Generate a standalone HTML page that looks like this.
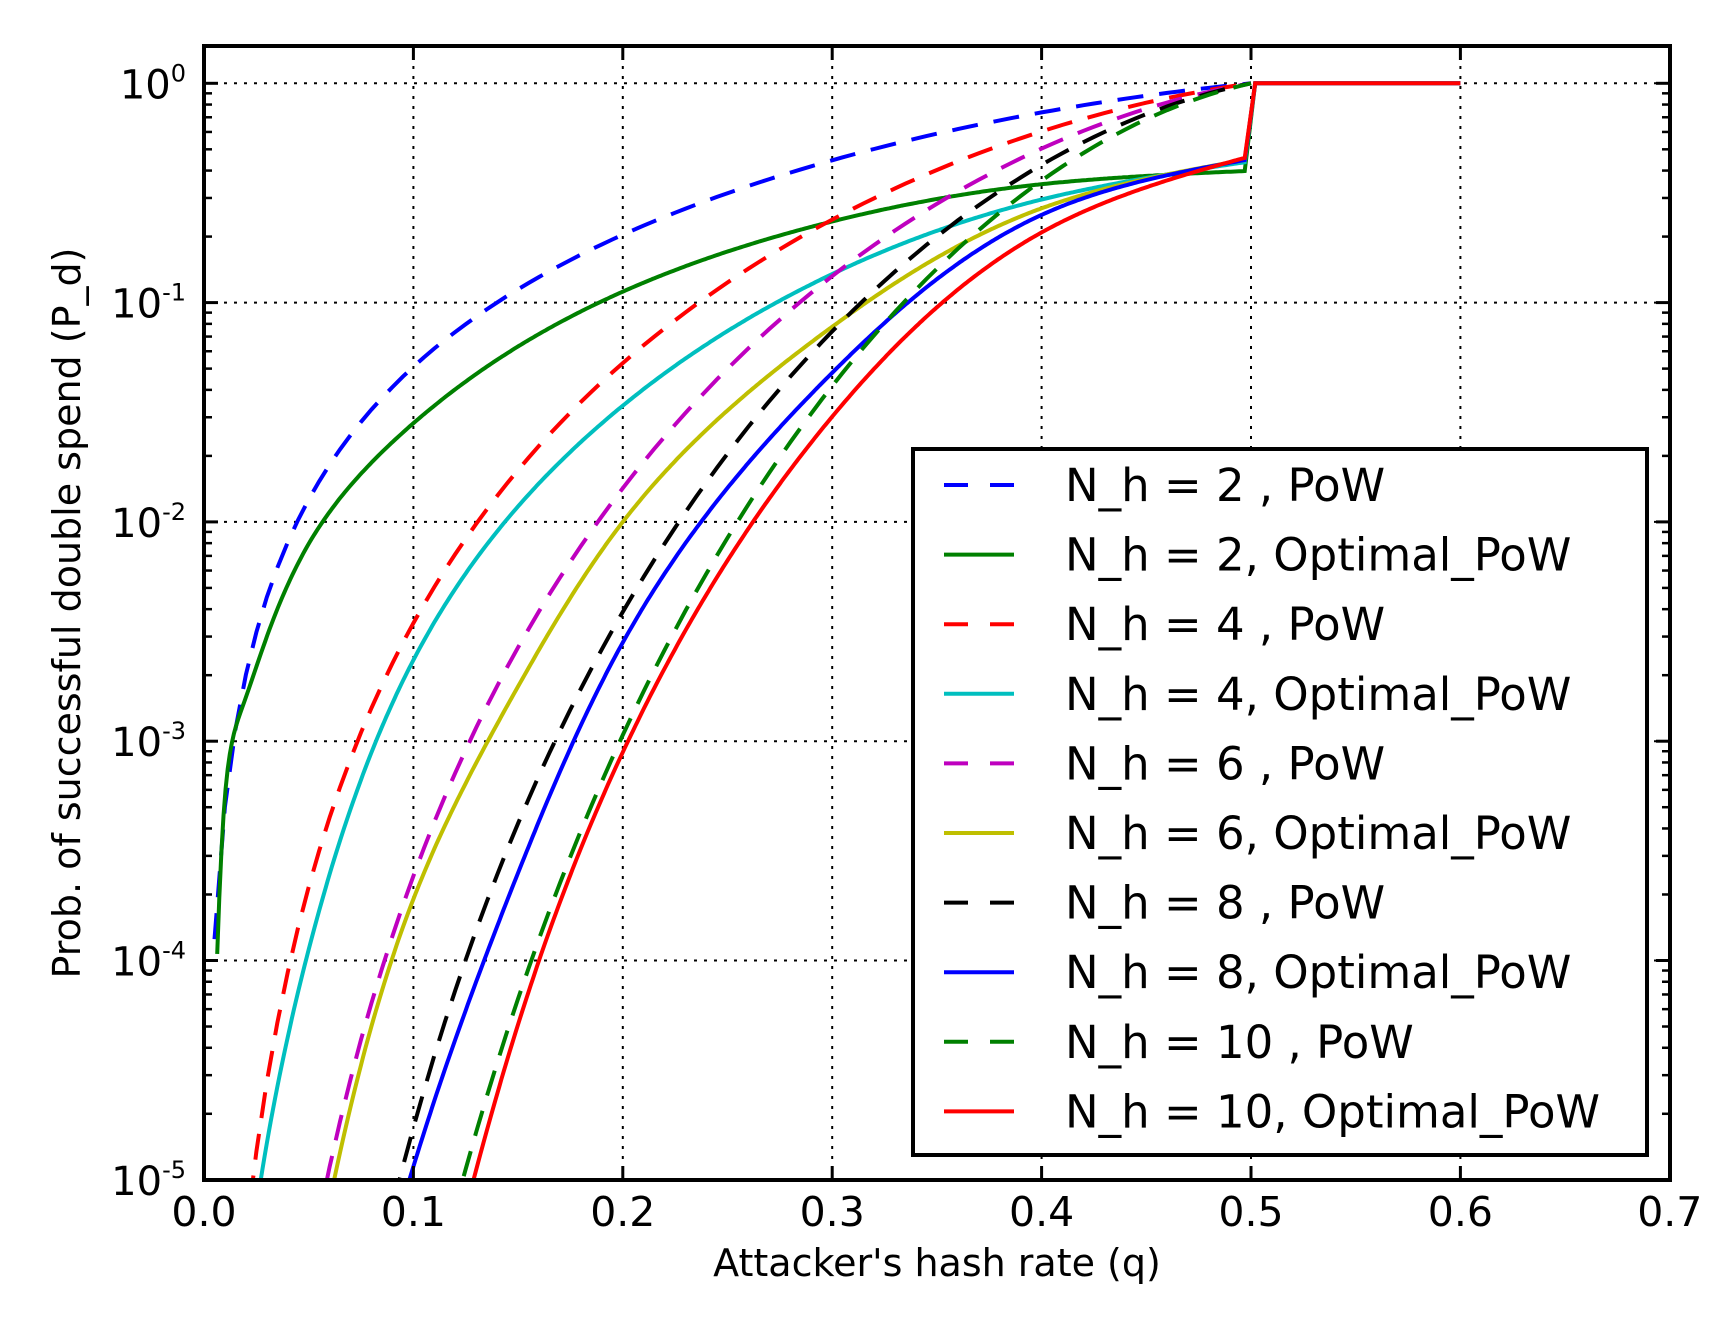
<!DOCTYPE html>
<html><head><meta charset="utf-8"><style>
html,body{margin:0;background:#fff;width:1723px;height:1321px;overflow:hidden}
svg{display:block}
svg text{font-family:"DejaVu Sans","Liberation Sans",sans-serif;fill:#000}
</style></head><body>
<svg id="s" width="1723" height="1321" xmlns="http://www.w3.org/2000/svg">
<defs><clipPath id="c"><rect x="204" y="46" width="1466" height="1134"/></clipPath></defs>
<rect width="1723" height="1321" fill="#fff"/>
<g id="grid"></g>
<g id="curves" clip-path="url(#c)"></g>
<rect x="204" y="46" width="1466" height="1134" fill="none" stroke="#000" stroke-width="4"/>
<g id="ticks"></g>
<g id="labels" font-size="41"></g>
<text x="937" y="1276" font-size="38" text-anchor="middle">Attacker's hash rate (q)</text>
<text transform="translate(80,613) rotate(-90)" font-size="38" text-anchor="middle">Prob. of successful double spend (P_d)</text>
<g id="legend"></g>
</svg>
<script>
const NS="http://www.w3.org/2000/svg";
function el(p,t,a,txt){const e=document.createElementNS(NS,t);for(const k in a)e.setAttribute(k,a[k]);if(txt!==undefined)e.textContent=txt;document.getElementById(p).appendChild(e);return e;}
const X=q=>204+q*2094, Y=l=>83.3-219.3*l;
for(let i=1;i<7;i++)el('grid','line',{x1:X(i/10),x2:X(i/10),y1:46,y2:1180,stroke:'#000','stroke-width':2,'stroke-dasharray':'3 7'});
for(let d=0;d>=-4;d--)el('grid','line',{x1:204,x2:1670,y1:Y(d),y2:Y(d),stroke:'#000','stroke-width':2,'stroke-dasharray':'3 7'});
for(let i=1;i<7;i++){el('ticks','line',{x1:X(i/10),x2:X(i/10),y1:1180,y2:1166,stroke:'#000','stroke-width':3});el('ticks','line',{x1:X(i/10),x2:X(i/10),y1:46,y2:60,stroke:'#000','stroke-width':3});}
for(let d=0;d>=-5;d--){
 el('ticks','line',{x1:204,x2:218,y1:Y(d),y2:Y(d),stroke:'#000','stroke-width':3});
 el('ticks','line',{x1:1670,x2:1656,y1:Y(d),y2:Y(d),stroke:'#000','stroke-width':3});
 if(d>-5)for(let k=2;k<10;k++){const y=Y(d-1+Math.log10(k));
  el('ticks','line',{x1:204,x2:212,y1:y,y2:y,stroke:'#000','stroke-width':2.5});
  el('ticks','line',{x1:1670,x2:1662,y1:y,y2:y,stroke:'#000','stroke-width':2.5});}
}
for(let i=0;i<=7;i++)el('labels','text',{x:X(i/10),y:1226,'text-anchor':'middle'},(i/10).toFixed(1));
for(let d=0;d>=-5;d--){
 const t=el('labels','text',{x:186,y:Y(d)+15,'text-anchor':'end','font-size':40});
 const a=document.createElementNS(NS,'tspan');a.textContent='10';t.appendChild(a);
 const b=document.createElementNS(NS,'tspan');b.setAttribute('font-size','24');b.setAttribute('dy','-17');b.textContent=(d===0?'0':d);t.appendChild(b);
}
function nak(q,z){if(q>=0.5)return 1;const p=1-q,l=z*q/p,r=q/p;let s=1,f=1;for(let k=0;k<=z;k++){if(k>0)f*=k;const po=Math.exp(-l)*Math.pow(l,k)/f;s-=po*(1-Math.pow(r,z-k));}return Math.max(s,1e-12);}
function spline(xs,ys){const n=xs.length,h=[],al=[],l=[1],mu=[0],z=[0],c=new Array(n).fill(0),b=[],d=[];
 for(let i=0;i<n-1;i++)h.push(xs[i+1]-xs[i]);
 for(let i=1;i<n-1;i++)al[i]=3/h[i]*(ys[i+1]-ys[i])-3/h[i-1]*(ys[i]-ys[i-1]);
 for(let i=1;i<n-1;i++){l[i]=2*(xs[i+1]-xs[i-1])-h[i-1]*mu[i-1];mu[i]=h[i]/l[i];z[i]=(al[i]-h[i-1]*z[i-1])/l[i];}
 for(let j=n-2;j>=0;j--){c[j]=(j>0?z[j]:0)-mu[j]*c[j+1];b[j]=(ys[j+1]-ys[j])/h[j]-h[j]*(c[j+1]+2*c[j])/3;d[j]=(c[j+1]-c[j])/(3*h[j]);}
 c[0]=0;b[0]=(ys[1]-ys[0])/h[0]-h[0]*(c[1])/3;d[0]=(c[1])/(3*h[0]);
 return x=>{let i=0;while(i<n-2&&x>xs[i+1])i++;const t=x-xs[i];return ys[i]+b[i]*t+c[i]*t*t+d[i]*t*t*t;};}
const opt={
2:[[0.0063,-3.97],[0.01,-3.25],[0.02,-2.8],[0.05,-2.1],[0.1,-1.55],[0.2,-0.95],[0.3,-0.63],[0.4,-0.46],[0.497,-0.40]],
4:[[0.024,-5.2],[0.05,-3.95],[0.1,-2.63],[0.2,-1.47],[0.3,-0.87],[0.4,-0.53],[0.497,-0.36]],
6:[[0.060,-5.1],[0.1,-3.72],[0.15,-2.75],[0.2,-2.0],[0.3,-1.11],[0.4,-0.57],[0.497,-0.35]],
8:[[0.095,-5.1],[0.15,-3.6],[0.2,-2.55],[0.3,-1.32],[0.4,-0.6],[0.497,-0.35]],
10:[[0.126,-5.1],[0.16,-4.0],[0.2,-3.05],[0.3,-1.52],[0.4,-0.68],[0.497,-0.34]]};
const series=[[2,'#0000ff','#008000'],[4,'#ff0000','#00bfbf'],[6,'#bf00bf','#bfbf00'],[8,'#000000','#0000ff'],[10,'#008000','#ff0000']];
series.forEach(([n,cd,cs])=>{
 let pts=[];for(let q=0.005;q<=0.5001;q+=0.005){let v=Math.log10(nak(q,n));if(v<-6)v=-6;pts.push(X(q).toFixed(1)+','+Y(v).toFixed(1));}
 el('curves','polyline',{points:pts.join(' '),fill:'none',stroke:cd,'stroke-width':4,'stroke-dasharray':'26 16'});
 const o=opt[n],f=spline(o.map(a=>Math.log10(a[0])),o.map(a=>a[1]));pts=[];
 for(let q=o[0][0];q<0.497;q+=0.001)pts.push(X(q).toFixed(1)+','+Y(f(Math.log10(q))).toFixed(1));
 pts.push(X(0.497)+','+Y(o[o.length-1][1]));pts.push(X(0.502)+','+Y(0));pts.push(X(0.6)+','+Y(0));
 el('curves','polyline',{points:pts.join(' '),fill:'none',stroke:cs,'stroke-width':4});
});
el('legend','rect',{x:913,y:449,width:734,height:706,fill:'#fff',stroke:'#000','stroke-width':4});
let i=0;
series.forEach(([n,cd,cs])=>{
 [[cd,true,'N_h = '+n+' , PoW'],[cs,false,'N_h = '+n+', Optimal_PoW']].forEach(([c,dash,t])=>{
  const y=485+i*69.6;
  const a={x1:944,x2:1014,y1:y,y2:y,stroke:c,'stroke-width':4};
  if(dash)a['stroke-dasharray']='24 22';
  el('legend','line',a);
  el('legend','text',{x:1065,y:y+16,'font-size':45},t);i++;
 });
});
</script>
</body></html>
